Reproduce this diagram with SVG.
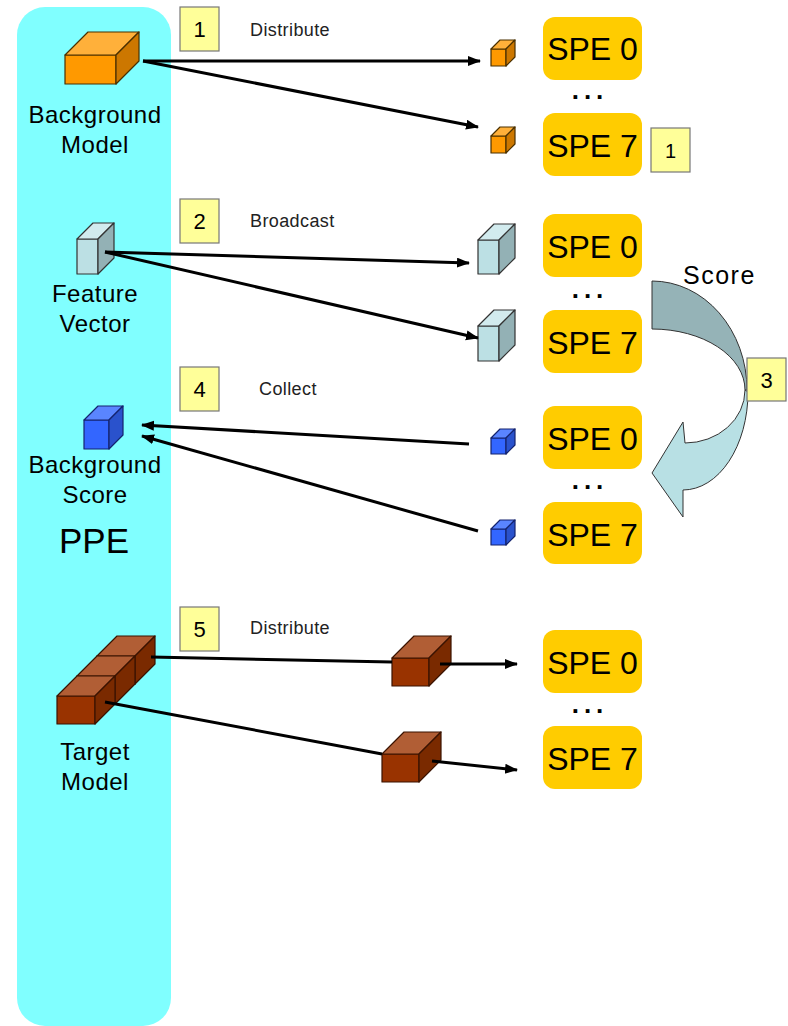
<svg xmlns="http://www.w3.org/2000/svg" width="788" height="1026" viewBox="0 0 788 1026">
  <style>
    text { font-family: "Liberation Sans", Arial, sans-serif; fill: #000; }
    .panel { fill: #80FFFF; }
    .spe { fill: #FFCC00; }
    .spe-t { font-size: 32px; text-anchor: middle; }
    .dots { font-size: 26px; text-anchor: middle; letter-spacing: 5px; font-weight: bold; }
    .step { fill: #FFFF99; stroke: #777; stroke-width: 1.2; }
    .step-t { font-size: 22px; text-anchor: middle; }
    .act { font-size: 18px; letter-spacing: 0.4px; fill: #222; }
    .lbl { font-size: 24px; text-anchor: middle; letter-spacing: 0.5px; }
    .cube * { stroke-width: 1.2; stroke-linejoin: round; }
    .org .f { fill: #FF9900; } .org .t { fill: #FFB03A; } .org .s { fill: #CC7700; } .org * { stroke: #4a3000; }
    .vec .f { fill: #BCE0E4; } .vec .t { fill: #D2EBEE; } .vec .s { fill: #93B1B5; } .vec * { stroke: #333; }
    .blu .f { fill: #3366FF; } .blu .t { fill: #5A85FF; } .blu .s { fill: #2A52CC; } .blu * { stroke: #14236e; }
    .brk .f { fill: #993300; } .brk .t { fill: #B15E35; } .brk .s { fill: #7A2A00; } .brk * { stroke: #3a1300; }
    .link { stroke: #000; stroke-width: 3; fill: none; }
  </style>
  <defs>
    <marker id="arrow" markerUnits="userSpaceOnUse" markerWidth="14" markerHeight="11" refX="12" refY="5" orient="auto">
      <path d="M0,0 L13,5 L0,10 Z" fill="#000"/>
    </marker>
  </defs>

  <!-- PPE column -->
  <g id="ppe">
    <rect class="panel" x="17" y="7" width="154" height="1019" rx="28"/>
    <text x="94" y="553" style="font-size:35px;text-anchor:middle">PPE</text>
  </g>

  <!-- Background model (PPE) -->
  <g id="background-model" class="cube org">
    <rect class="f" x="65" y="55" width="51" height="29"/>
    <polygon class="t" points="65,55 88,32 139,32 116,55"/>
    <polygon class="s" points="116,55 139,32 139,61 116,84"/>
  </g>
  <g id="background-model-label">
    <text class="lbl" x="95" y="123">Background</text>
    <text class="lbl" x="95" y="153">Model</text>
  </g>

  <!-- Feature vector (PPE) -->
  <g id="feature-vector" class="cube vec">
    <rect class="f" x="77" y="239" width="21" height="35"/>
    <polygon class="t" points="77,239 93,223 114,223 98,239"/>
    <polygon class="s" points="98,239 114,223 114,258 98,274"/>
  </g>
  <g id="feature-vector-label">
    <text class="lbl" x="95" y="302">Feature</text>
    <text class="lbl" x="95" y="332">Vector</text>
  </g>

  <!-- Background score (PPE) -->
  <g id="background-score" class="cube blu">
    <rect class="f" x="84" y="420" width="25" height="29"/>
    <polygon class="t" points="84,420 98,406 123,406 109,420"/>
    <polygon class="s" points="109,420 123,406 123,435 109,449"/>
  </g>
  <g id="background-score-label">
    <text class="lbl" x="95" y="473">Background</text>
    <text class="lbl" x="95" y="503">Score</text>
  </g>

  <!-- Target model (PPE): three bricks -->
  <g id="target-model" class="cube brk">
    <rect class="f" x="97" y="656" width="38" height="28"/>
    <polygon class="t" points="97,656 117,636 155,636 135,656"/>
    <polygon class="s" points="135,656 155,636 155,664 135,684"/>
    <rect class="f" x="77" y="676" width="38" height="28"/>
    <polygon class="t" points="77,676 97,656 135,656 115,676"/>
    <polygon class="s" points="115,676 135,656 135,684 115,704"/>
    <rect class="f" x="57" y="696" width="38" height="28"/>
    <polygon class="t" points="57,696 77,676 115,676 95,696"/>
    <polygon class="s" points="95,696 115,676 115,704 95,724"/>
  </g>
  <g id="target-model-label">
    <text class="lbl" x="95" y="760">Target</text>
    <text class="lbl" x="95" y="790">Model</text>
  </g>

  <!-- Step markers -->
  <g id="step-1"><rect class="step" x="180" y="7" width="39" height="44"/><text class="step-t" x="199.5" y="37">1</text></g>
  <g id="step-2"><rect class="step" x="180" y="199" width="39" height="44"/><text class="step-t" x="199.5" y="229">2</text></g>
  <g id="step-4"><rect class="step" x="180" y="367" width="39" height="44"/><text class="step-t" x="199.5" y="397">4</text></g>
  <g id="step-5"><rect class="step" x="180" y="607" width="39" height="44"/><text class="step-t" x="199.5" y="637">5</text></g>
  <g id="step-1b"><rect class="step" x="651" y="128" width="39" height="44"/><text class="step-t" x="670.5" y="158" style="font-size:20px">1</text></g>

  <!-- Step captions -->
  <g id="captions">
    <text class="act" x="250" y="36">Distribute</text>
    <text class="act" x="250" y="227">Broadcast</text>
    <text class="act" x="259" y="395">Collect</text>
    <text class="act" x="250" y="634">Distribute</text>
  </g>

  <!-- Data blocks at the SPEs -->
  <g id="model-part-0" class="cube org">
    <rect class="f" x="491" y="49" width="15" height="17"/>
    <polygon class="t" points="491,49 500,40 515,40 506,49"/>
    <polygon class="s" points="506,49 515,40 515,57 506,66"/>
  </g>
  <g id="model-part-7" class="cube org">
    <rect class="f" x="491" y="136" width="15" height="17"/>
    <polygon class="t" points="491,136 500,127 515,127 506,136"/>
    <polygon class="s" points="506,136 515,127 515,144 506,153"/>
  </g>
  <g id="vector-copy-0" class="cube vec">
    <rect class="f" x="478" y="240" width="21" height="34"/>
    <polygon class="t" points="478,240 494,224 515,224 499,240"/>
    <polygon class="s" points="499,240 515,224 515,258 499,274"/>
  </g>
  <g id="vector-copy-7" class="cube vec">
    <rect class="f" x="478" y="326" width="21" height="35"/>
    <polygon class="t" points="478,326 494,310 515,310 499,326"/>
    <polygon class="s" points="499,326 515,310 515,345 499,361"/>
  </g>
  <g id="score-part-0" class="cube blu">
    <rect class="f" x="491" y="438" width="15" height="16"/>
    <polygon class="t" points="491,438 500,429 515,429 506,438"/>
    <polygon class="s" points="506,438 515,429 515,445 506,454"/>
  </g>
  <g id="score-part-7" class="cube blu">
    <rect class="f" x="491" y="529" width="15" height="16"/>
    <polygon class="t" points="491,529 500,520 515,520 506,529"/>
    <polygon class="s" points="506,529 515,520 515,536 506,545"/>
  </g>
  <g id="target-part-0" class="cube brk">
    <rect class="f" x="392" y="658" width="37" height="28"/>
    <polygon class="t" points="392,658 414,636 451,636 429,658"/>
    <polygon class="s" points="429,658 451,636 451,664 429,686"/>
  </g>
  <g id="target-part-7" class="cube brk">
    <rect class="f" x="382" y="754" width="37" height="28"/>
    <polygon class="t" points="382,754 404,732 441,732 419,754"/>
    <polygon class="s" points="419,754 441,732 441,760 419,782"/>
  </g>

  <!-- SPE groups -->
  <g id="spe-row-1">
    <rect class="spe" x="543" y="17" width="99" height="63" rx="12"/><text class="spe-t" x="592.5" y="60">SPE 0</text>
    <text class="dots" x="590" y="99">...</text>
    <rect class="spe" x="543" y="113" width="99" height="63" rx="12"/><text class="spe-t" x="592.5" y="157">SPE 7</text>
  </g>
  <g id="spe-row-2">
    <rect class="spe" x="543" y="214" width="99" height="63" rx="12"/><text class="spe-t" x="592.5" y="258">SPE 0</text>
    <text class="dots" x="590" y="298">...</text>
    <rect class="spe" x="543" y="310" width="99" height="63" rx="12"/><text class="spe-t" x="592.5" y="354">SPE 7</text>
  </g>
  <g id="spe-row-3">
    <rect class="spe" x="543" y="406" width="99" height="63" rx="12"/><text class="spe-t" x="592.5" y="450">SPE 0</text>
    <text class="dots" x="590" y="489">...</text>
    <rect class="spe" x="543" y="502" width="99" height="62" rx="12"/><text class="spe-t" x="592.5" y="546">SPE 7</text>
  </g>
  <g id="spe-row-4">
    <rect class="spe" x="543" y="630" width="99" height="63" rx="12"/><text class="spe-t" x="592.5" y="674">SPE 0</text>
    <text class="dots" x="590" y="713">...</text>
    <rect class="spe" x="543" y="726" width="99" height="63" rx="12"/><text class="spe-t" x="592.5" y="770">SPE 7</text>
  </g>

  <!-- Scoring loop arrow -->
  <g id="score-arrow">
    <path d="M652,281 A95,109 0 0 1 747,390 L745,390 A93,61 0 0 0 652,329 Z" fill="#95B3B7" stroke="#333" stroke-width="1"/>
    <path d="M745,390 L748,392 A65,98 0 0 1 683,490 L683,517 L652,473 L683,422 L685,443 A60,53 0 0 0 745,390 Z" fill="#B8E0E4" stroke="#333" stroke-width="1"/>
    <text x="683" y="284" style="font-size:25px;letter-spacing:1.5px">Score</text>
  </g>
  <g id="step-3"><rect class="step" x="747" y="358" width="39" height="43"/><text class="step-t" x="766.5" y="388">3</text></g>

  <!-- Connectors -->
  <g id="connectors">
    <line class="link" x1="143" y1="61" x2="480" y2="61" marker-end="url(#arrow)"/>
    <line class="link" x1="143" y1="61" x2="478" y2="127" marker-end="url(#arrow)"/>
    <line class="link" x1="105" y1="252" x2="469" y2="263" marker-end="url(#arrow)"/>
    <line class="link" x1="105" y1="252" x2="478" y2="338" marker-end="url(#arrow)"/>
    <line class="link" x1="469" y1="444" x2="142" y2="425" marker-end="url(#arrow)"/>
    <line class="link" x1="478" y1="531" x2="142" y2="436" marker-end="url(#arrow)"/>
    <line class="link" x1="151" y1="657" x2="392" y2="662"/>
    <line class="link" x1="440" y1="664" x2="517" y2="664" marker-end="url(#arrow)"/>
    <line class="link" x1="105" y1="702" x2="382" y2="754"/>
    <line class="link" x1="432" y1="761" x2="517" y2="770" marker-end="url(#arrow)"/>
  </g>
</svg>
